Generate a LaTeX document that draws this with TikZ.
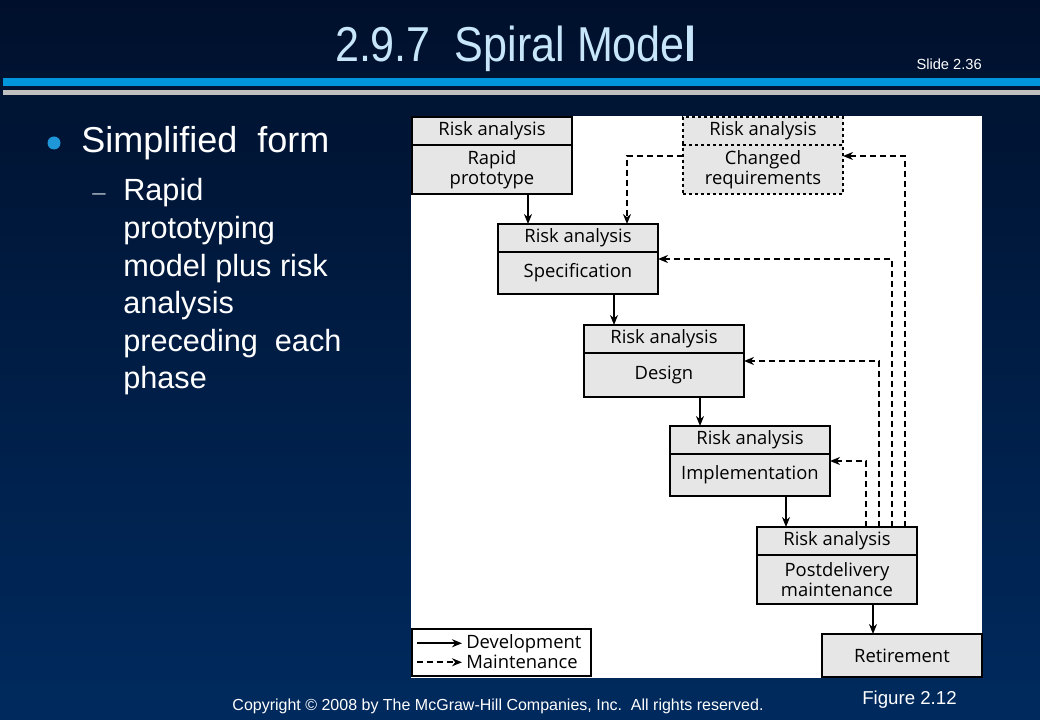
\documentclass[tikz,border=0pt]{standalone}
\usepackage{fontspec}
\setmainfont{Liberation Sans}
\newfontfamily\figfont{Open Sans}
\usetikzlibrary{arrows.meta,calc,positioning}
\definecolor{bgtop}{RGB}{0,16,44}
\definecolor{bgbot}{RGB}{0,42,94}
\definecolor{stripeblue}{RGB}{0,150,220}
\definecolor{stripegray}{RGB}{192,192,192}
\definecolor{titleblue}{RGB}{200,230,250}
\definecolor{boxgray}{RGB}{230,230,230}
\definecolor{bulletblue}{RGB}{30,150,215}
\definecolor{dashgray}{RGB}{160,170,185}

\tikzset{
	riskbox/.style={draw, fill=boxgray, line width=1.3pt, minimum width=120pt,
		minimum height=21pt, inner sep=0pt, outer sep=0pt, align=center,
		font=\figfont\fontsize{13.8}{15.2}\selectfont},
	dev/.style={line width=1.5pt, -{Stealth[length=7.5pt,width=6pt]}},
	mnt/.style={dev, dash pattern=on 4.5pt off 3pt},
	slidetext/.style={white, anchor=base west, inner sep=0pt},
}

\begin{document}
\begin{tikzpicture}[x=0.75pt, y=-0.75pt]
	% Background and title bar
	\shade[top color=bgtop, bottom color=bgbot] (0,0) rectangle (1040,720);
	\useasboundingbox (0,0) rectangle (1040,720);
	\fill[stripeblue] (3,78) rectangle (1040,86);
	\fill[stripegray] (3,90) rectangle (1040,95);
	\node[titleblue, font=\fontsize{36.75}{40}\selectfont, xscale=0.88, anchor=base] (title) at (516,62) {2.9.7\ \ Spiral Mode\textbf{l}};
	\node[white, font=\fontsize{11}{13}\selectfont, anchor=base east, inner sep=0pt] (slideno) at (982,70) {Slide 2.36};
	
	% Bullet text
	\node[circle, fill=bulletblue, minimum size=9.75pt, inner sep=0pt] (dot) at (54,143) {};
	\node[slidetext, font=\fontsize{27}{30}\selectfont] (head) at (81,153) {Simplified\ \ form};
	\node[slidetext, dashgray, font=\fontsize{18}{20}\selectfont] (dash) at (92,201) {–};
	\foreach \ln [count=\i from 0] in {Rapid, prototyping, model plus risk, analysis, preceding\ \ each, phase}
		\node[slidetext, font=\fontsize{23}{26}\selectfont] (sub\i) at (123,201+37.6*\i) {\ln};
	
	% Figure panel
	\fill[white] (411,116) rectangle (982,678);
	
	% Phases
	\node[riskbox, anchor=north west] (rp-r) at (412,117) {Risk analysis};
	\node[riskbox, minimum height=36.75pt, below=0pt of rp-r] (rp) {Rapid\\prototype};
	\node[riskbox, dash pattern=on 2.5pt off 2pt, line width=1pt, anchor=north west] (cr-r) at (683,117) {Risk analysis};
	\node[riskbox, dash pattern=on 2.5pt off 2pt, line width=1pt, minimum height=36.75pt, below=0pt of cr-r] (cr) {Changed\\requirements};
	\node[riskbox, anchor=north west] (spec-r) at (498,224) {Risk analysis};
	\node[riskbox, minimum height=31.5pt, below=0pt of spec-r] (spec) {Specification};
	\node[riskbox, anchor=north west] (des-r) at (584,325) {Risk analysis};
	\node[riskbox, minimum height=33pt, below=0pt of des-r] (des) {Design};
	\node[riskbox, anchor=north west] (imp-r) at (670,426) {Risk analysis};
	\node[riskbox, minimum height=31.5pt, below=0pt of imp-r] (imp) {Implementation};
	\node[riskbox, anchor=north west] (post-r) at (757,527) {Risk analysis};
	\node[riskbox, minimum height=36.75pt, below=0pt of post-r] (post) {Postdelivery\\maintenance};
	\node[riskbox, minimum height=32.25pt, anchor=north west] (ret) at (822,634) {Retirement};
	
	% Development arrows
	\foreach \a/\b in {rp/spec-r, spec/des-r, des/imp-r, imp/post-r, post/ret}
		\draw[dev] ($(\a.south)+(36,0)$) coordinate (t) -- (t |- \b.north);
	
	% Maintenance arrows
	\draw[mnt] ($(cr.north west)+(0,11)$) -| ($(spec-r.north)+(49,0)$);
	\foreach \dx/\tgt/\dy in {68/cr/11, 55/spec/7, 42/des/8, 29/imp/7}
		\draw[mnt] ($(post-r.north)+(\dx,0)$) |- ($(\tgt.north east)+(0,\dy)$);
	
	% Legend
	\node[draw, fill=white, line width=1.3pt, minimum width=134.25pt, minimum height=35.25pt, inner sep=0pt, anchor=south west] (legend) at (411,677) {};
	\node[anchor=west, inner sep=3pt, font=\figfont\fontsize{13.8}{15}\selectfont] (ldev) at ($(legend.north west)+(51,15)$) {Development};
	\node[anchor=west, inner sep=3pt, font=\figfont\fontsize{13.8}{15}\selectfont] (lmnt) at ($(legend.north west)+(51,34)$) {Maintenance};
	\draw[dev] ($(legend.north west)+(6,15)$) -- (ldev.west);
	\draw[mnt] ($(legend.north west)+(6,34)$) -- (lmnt.west);
	
	% Footer
	\node[white, font=\fontsize{12}{14}\selectfont, anchor=base] (copy) at (498,710) {Copyright © 2008 by The McGraw-Hill Companies, Inc.\ \ All rights reserved.};
	\node[white, font=\fontsize{14}{16}\selectfont, anchor=base west, inner sep=0pt] (figno) at (862,704) {Figure 2.12};
\end{tikzpicture}
\end{document}
